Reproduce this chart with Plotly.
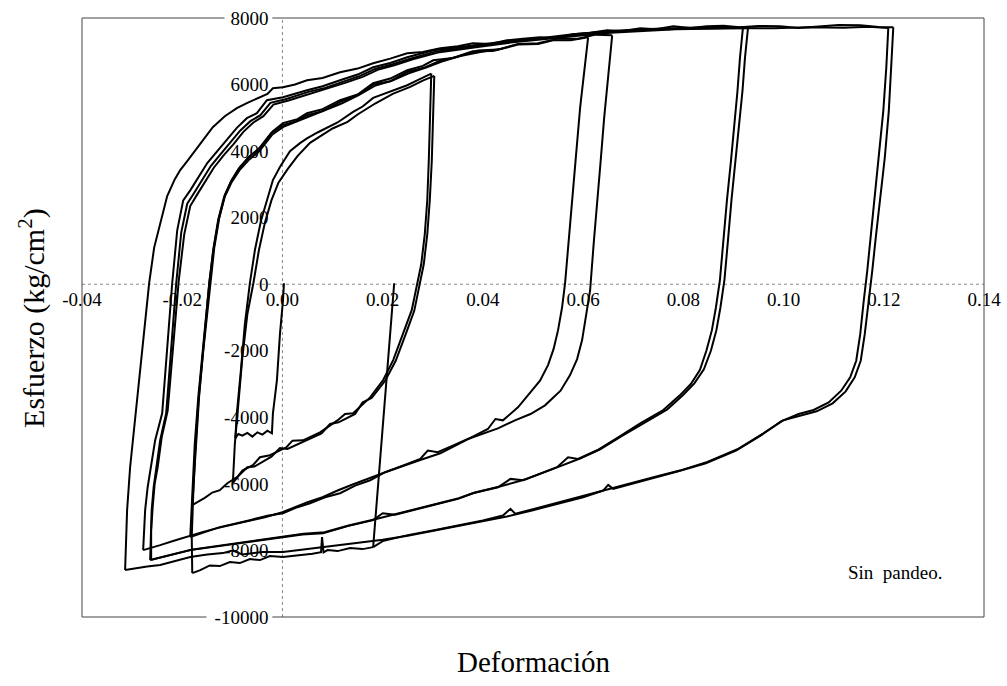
import plotly.graph_objects as go

# ---------------- axis ticks ----------------
x_ticks = [-0.04, -0.02, 0.00, 0.02, 0.04, 0.06, 0.08, 0.10, 0.12, 0.14]
x_tick_labels = ["-0.04", "-0.02", "0.00", "0.02", "0.04", "0.06", "0.08", "0.10", "0.12", "0.14"]
y_ticks = [-10000, -8000, -6000, -4000, -2000, 0, 2000, 4000, 6000, 8000]
y_tick_labels = ["-10000", "-8000", "-6000", "-4000", "-2000", "0", "2000", "4000", "6000", "8000"]

# ---------------- curve branches (strain, stress kg/cm2) ----------------
init_x = [0.0003, 0.0001, -0.0005, -0.0011, -0.0019, -0.0021, -0.0030, -0.0040, -0.0050, -0.0060, -0.0070, -0.0080, -0.0088, -0.0094]
init_y = [30, -500, -1500, -2880, -3880, -4480, -4400, -4520, -4450, -4580, -4470, -4550, -4500, -4630]

r4a_x = [-0.0094, -0.0091, -0.0083, -0.0075, -0.0065, -0.0055, -0.0043, -0.0031, -0.0019, -0.0005, 0.0015, 0.0035, 0.0049, 0.0070, 0.0089, 0.0110, 0.0141, 0.0160, 0.0181, 0.0210, 0.0249, 0.0275, 0.0297]
r4a_y = [-4630, -3880, -2600, -1200, 30, 1020, 1900, 2520, 3130, 3520, 4000, 4240, 4380, 4560, 4700, 4860, 5180, 5340, 5600, 5760, 5980, 6170, 6330]

u1a_x = [0.0297, 0.0295, 0.0292, 0.0289, 0.0284, 0.0277, 0.0269, 0.0258, 0.0241, 0.0221, 0.0201, 0.0175, 0.0141, 0.0125, 0.0109, 0.0090, 0.0075, 0.0041, 0.0020, 0.0008, -0.0025, -0.0045, -0.0059, -0.0080, -0.0099]
u1a_y = [6330, 5000, 3700, 2520, 1500, 600, 30, -780, -1470, -2280, -2880, -3400, -3880, -3900, -4100, -4300, -4450, -4690, -4700, -4900, -5140, -5200, -5440, -5600, -5980]

r4b_x = [-0.0099, -0.0095, -0.0088, -0.0080, -0.0070, -0.0058, -0.0047, -0.0035, -0.0022, -0.0008, 0.0010, 0.0030, 0.0055, 0.0080, 0.0100, 0.0130, 0.0150, 0.0185, 0.0220, 0.0255, 0.0280, 0.0303]
r4b_y = [-5980, -4800, -3600, -2200, -900, 30, 1020, 1850, 2520, 3050, 3450, 3850, 4250, 4480, 4680, 4880, 5100, 5430, 5720, 5930, 6120, 6260]

u1b_x = [0.0303, 0.0301, 0.0298, 0.0294, 0.0289, 0.0282, 0.0274, 0.0263, 0.0246, 0.0226, 0.0205, 0.0178, 0.0160, 0.0145, 0.0112, 0.0095, 0.0078, 0.0044, 0.0010, -0.0005, -0.0022, -0.0056, -0.0070, -0.0089, -0.0110, -0.0125, -0.0140, -0.0155, -0.0170, -0.0180]
u1b_y = [6260, 5000, 3700, 2520, 1500, 600, 30, -800, -1500, -2300, -2900, -3420, -3550, -3900, -4150, -4200, -4480, -4720, -4950, -4920, -5180, -5480, -5500, -5780, -5980, -6190, -6260, -6420, -6560, -6640]

r3a_x = [-0.0180, -0.0176, -0.0172, -0.0166, -0.0158, -0.0150, -0.0144, -0.0136, -0.0126, -0.0114, -0.0101, -0.0085, -0.0065, -0.0045, -0.0019, 0.0001, 0.0030, 0.0049, 0.0080, 0.0115, 0.0150, 0.0181, 0.0215, 0.0249, 0.0280, 0.0301, 0.0340, 0.0380, 0.0420, 0.0470, 0.0510, 0.0540, 0.0575, 0.0610]
r3a_y = [-6640, -5600, -4500, -3300, -2000, -900, 30, 1100, 2000, 2700, 3130, 3520, 3850, 4100, 4600, 4840, 4960, 5140, 5260, 5530, 5700, 6040, 6180, 6430, 6560, 6730, 6800, 7000, 7010, 7200, 7220, 7330, 7330, 7420]

u2a_x = [0.0610, 0.0602, 0.0594, 0.0586, 0.0578, 0.0571, 0.0564, 0.0558, 0.0550, 0.0541, 0.0530, 0.0514, 0.0494, 0.0470, 0.0440, 0.0425, 0.0410, 0.0374, 0.0345, 0.0315, 0.0275, 0.0235, 0.0205, 0.0175, 0.0145, 0.0115, 0.0085, 0.0055, 0.0030, 0.0001, -0.0030, -0.0065, -0.0095, -0.0125, -0.0155, -0.0184]
u2a_y = [7420, 6300, 5300, 3900, 2520, 1200, 30, -700, -1380, -1950, -2430, -2900, -3280, -3700, -4090, -4050, -4350, -4630, -4850, -5080, -5280, -5500, -5650, -5890, -6050, -6280, -6400, -6580, -6700, -6880, -6960, -7090, -7200, -7300, -7450, -7600]

r3b_x = [-0.0184, -0.0180, -0.0175, -0.0168, -0.0160, -0.0152, -0.0146, -0.0138, -0.0128, -0.0116, -0.0103, -0.0088, -0.0068, -0.0048, -0.0022, 0.0001, 0.0028, 0.0049, 0.0080, 0.0115, 0.0150, 0.0181, 0.0215, 0.0249, 0.0285, 0.0315, 0.0350, 0.0390, 0.0430, 0.0470, 0.0510, 0.0550, 0.0590, 0.0625, 0.0658]
r3b_y = [-7600, -6200, -4800, -3400, -2100, -950, 30, 1050, 1950, 2650, 3080, 3450, 3800, 4050, 4550, 4780, 4900, 5080, 5200, 5480, 5680, 6000, 6100, 6380, 6520, 6720, 6840, 7020, 7050, 7220, 7240, 7380, 7380, 7500, 7480]

u2b_x = [0.0658, 0.0650, 0.0642, 0.0635, 0.0628, 0.0621, 0.0614, 0.0606, 0.0598, 0.0588, 0.0574, 0.0555, 0.0524, 0.0495, 0.0464, 0.0430, 0.0400, 0.0370, 0.0340, 0.0310, 0.0290, 0.0275, 0.0240, 0.0205, 0.0170, 0.0140, 0.0110, 0.0080, 0.0050, 0.0020, 0.0000, -0.0035, -0.0065, -0.0100, -0.0130, -0.0160, -0.0190, -0.0215, -0.0244, -0.0265, -0.0278]
u2b_y = [7480, 6300, 5000, 3700, 2520, 1200, -180, -950, -1680, -2250, -2730, -3200, -3640, -3900, -4090, -4330, -4500, -4650, -4850, -5050, -5000, -5250, -5450, -5650, -5830, -6020, -6200, -6400, -6550, -6720, -6850, -7000, -7100, -7230, -7330, -7450, -7580, -7700, -7840, -7930, -7990]

r2a_x = [-0.0278, -0.0276, -0.0274, -0.0269, -0.0264, -0.0254, -0.0240, -0.0230, -0.0220, -0.0210, -0.0198, -0.0184, -0.0165, -0.0150, -0.0130, -0.0111, -0.0091, -0.0071, -0.0051, -0.0031, 0.0001, 0.0049, 0.0080, 0.0115, 0.0150, 0.0181, 0.0215, 0.0249, 0.0301, 0.0340, 0.0380, 0.0448, 0.0514, 0.0580, 0.0648, 0.0714, 0.0780, 0.0847, 0.0890, 0.0919]
r2a_y = [-7990, -7300, -6790, -6100, -5590, -4690, -3880, -1980, 30, 1620, 2520, 2820, 3300, 3640, 4000, 4330, 4700, 4990, 5140, 5530, 5620, 5830, 5950, 6130, 6300, 6520, 6650, 6820, 7030, 7100, 7180, 7300, 7390, 7510, 7600, 7660, 7690, 7720, 7700, 7720]

u3a_x = [0.0919, 0.0913, 0.0908, 0.0903, 0.0895, 0.0887, 0.0880, 0.0873, 0.0865, 0.0857, 0.0846, 0.0833, 0.0815, 0.0793, 0.0760, 0.0714, 0.0670, 0.0628, 0.0590, 0.0570, 0.0548, 0.0515, 0.0480, 0.0455, 0.0430, 0.0380, 0.0350, 0.0315, 0.0270, 0.0225, 0.0200, 0.0181, 0.0130, 0.0081, 0.0040, 0.0001, -0.0040, -0.0085, -0.0135, -0.0184, -0.0224, -0.0264]
u3a_y = [7720, 6800, 5800, 4930, 3700, 2520, 1300, 120, -700, -1380, -2000, -2580, -3000, -3340, -3780, -4180, -4600, -4990, -5250, -5200, -5500, -5700, -5890, -5850, -6100, -6280, -6450, -6580, -6760, -6930, -6880, -7090, -7270, -7480, -7520, -7600, -7680, -7780, -7880, -7990, -8140, -8290]

r2b_x = [-0.0264, -0.0263, -0.0261, -0.0257, -0.0252, -0.0244, -0.0232, -0.0222, -0.0212, -0.0202, -0.0190, -0.0176, -0.0158, -0.0143, -0.0123, -0.0104, -0.0084, -0.0064, -0.0044, -0.0024, 0.0006, 0.0052, 0.0085, 0.0120, 0.0155, 0.0185, 0.0220, 0.0255, 0.0305, 0.0345, 0.0385, 0.0450, 0.0515, 0.0580, 0.0650, 0.0714, 0.0780, 0.0850, 0.0900, 0.0929]
r2b_y = [-8290, -7500, -6800, -6100, -5590, -4690, -3880, -1980, 30, 1550, 2420, 2750, 3200, 3550, 3920, 4250, 4620, 4900, 5080, 5450, 5560, 5780, 5900, 6080, 6260, 6470, 6610, 6780, 6990, 7070, 7150, 7280, 7370, 7480, 7580, 7640, 7680, 7700, 7690, 7700]

u3b_x = [0.0929, 0.0923, 0.0918, 0.0912, 0.0904, 0.0896, 0.0889, 0.0882, 0.0874, 0.0866, 0.0855, 0.0841, 0.0822, 0.0800, 0.0768, 0.0722, 0.0676, 0.0634, 0.0595, 0.0552, 0.0518, 0.0484, 0.0434, 0.0384, 0.0352, 0.0318, 0.0272, 0.0228, 0.0183, 0.0132, 0.0084, 0.0042, 0.0003, -0.0038, -0.0083, -0.0133, -0.0182, -0.0222, -0.0262]
u3b_y = [7700, 6800, 5800, 4930, 3700, 2520, 1300, 120, -700, -1380, -2000, -2560, -2980, -3320, -3760, -4160, -4570, -4960, -5230, -5480, -5680, -5870, -6080, -6260, -6430, -6560, -6740, -6910, -7070, -7250, -7450, -7500, -7580, -7660, -7760, -7870, -7980, -8130, -8280]

r2c_x = [-0.0262, -0.0262, -0.0259, -0.0255, -0.0249, -0.0241, -0.0229, -0.0218, -0.0207, -0.0196, -0.0184, -0.0170, -0.0152, -0.0137, -0.0117, -0.0098, -0.0078, -0.0058, -0.0038, -0.0018, 0.0012, 0.0058, 0.0090, 0.0125, 0.0160, 0.0190, 0.0225, 0.0260, 0.0310, 0.0350, 0.0390, 0.0455, 0.0520, 0.0585, 0.0655, 0.0720, 0.0785, 0.0850, 0.0915, 0.0980, 0.1050, 0.1120, 0.1170, 0.1209]
r2c_y = [-8280, -7400, -6700, -6000, -5500, -4600, -3800, -1900, 100, 1500, 2350, 2700, 3150, 3500, 3880, 4200, 4580, 4860, 5050, 5400, 5520, 5740, 5870, 6050, 6230, 6440, 6590, 6760, 6960, 7050, 7130, 7260, 7350, 7460, 7560, 7620, 7660, 7680, 7700, 7690, 7720, 7710, 7740, 7700]

u4a_x = [0.1209, 0.1205, 0.1199, 0.1190, 0.1181, 0.1174, 0.1167, 0.1160, 0.1153, 0.1145, 0.1133, 0.1115, 0.1090, 0.1060, 0.1030, 0.0995, 0.0955, 0.0905, 0.0845, 0.0790, 0.0745, 0.0700, 0.0660, 0.0650, 0.0640, 0.0600, 0.0550, 0.0500, 0.0448, 0.0400, 0.0350, 0.0300, 0.0250, 0.0200, 0.0150, 0.0100, 0.0050, 0.0001, -0.0040, -0.0080, -0.0100, -0.0119, -0.0150, -0.0184, -0.0215, -0.0244, -0.0270, -0.0290, -0.0314]
u4a_y = [7700, 6500, 5200, 3800, 2520, 1400, 400, -500, -1500, -2300, -2800, -3200, -3550, -3780, -3900, -4120, -4540, -5000, -5380, -5620, -5800, -5980, -6150, -6030, -6200, -6400, -6600, -6790, -6980, -7120, -7280, -7420, -7560, -7680, -7780, -7870, -7960, -8050, -8050, -8120, -8000, -8080, -8120, -8200, -8330, -8440, -8480, -8520, -8590]

r1_x = [-0.0314, -0.0312, -0.0310, -0.0304, -0.0294, -0.0284, -0.0275, -0.0266, -0.0256, -0.0244, -0.0230, -0.0215, -0.0204, -0.0190, -0.0178, -0.0160, -0.0139, -0.0115, -0.0091, -0.0070, -0.0051, -0.0030, -0.0019, 0.0001, 0.0025, 0.0049, 0.0080, 0.0115, 0.0150, 0.0181, 0.0215, 0.0249, 0.0280, 0.0315, 0.0350, 0.0380, 0.0415, 0.0448, 0.0480, 0.0514, 0.0545, 0.0580, 0.0615, 0.0648, 0.0680, 0.0714, 0.0745, 0.0780, 0.0815, 0.0847, 0.0880, 0.0913, 0.0950, 0.0993, 0.1030, 0.1073, 0.1110, 0.1153, 0.1190, 0.1219]
r1_y = [-8590, -7700, -6790, -5500, -4090, -2700, -1300, 30, 1100, 1830, 2650, 3150, 3430, 3700, 3940, 4300, 4720, 5050, 5290, 5450, 5590, 5720, 5890, 5920, 6000, 6130, 6200, 6370, 6480, 6640, 6780, 6940, 6980, 7090, 7150, 7240, 7220, 7330, 7380, 7420, 7400, 7510, 7560, 7630, 7600, 7690, 7660, 7750, 7700, 7750, 7770, 7720, 7760, 7750, 7700, 7750, 7790, 7780, 7730, 7720]

u4b_x = [0.1219, 0.1215, 0.1210, 0.1202, 0.1192, 0.1184, 0.1177, 0.1170, 0.1162, 0.1154, 0.1142, 0.1124, 0.1098, 0.1066, 0.1035, 0.0999, 0.0958, 0.0908, 0.0848, 0.0793, 0.0748, 0.0703, 0.0658, 0.0603, 0.0553, 0.0503, 0.0465, 0.0455, 0.0440, 0.0400, 0.0350, 0.0300, 0.0250, 0.0200, 0.0181]
u4b_y = [7720, 6500, 5200, 3800, 2520, 1400, 400, -500, -1500, -2300, -2800, -3220, -3580, -3820, -3940, -4090, -4500, -4960, -5340, -5600, -5770, -5950, -6150, -6370, -6570, -6760, -6900, -6750, -6950, -7100, -7260, -7400, -7540, -7720, -7900]

low_x = [0.0181, 0.0160, 0.0135, 0.0110, 0.0090, 0.0082, 0.0079, 0.0077, 0.0060, 0.0035, 0.0001, -0.0025, -0.0045, -0.0065, -0.0085, -0.0105, -0.0125, -0.0145, -0.0164, -0.0180]
low_y = [-7900, -7960, -7930, -8020, -7990, -8060, -7600, -8050, -8100, -8140, -8200, -8170, -8290, -8260, -8380, -8350, -8470, -8450, -8590, -8680]

r3c_x = [-0.0180, -0.0181, -0.0178, -0.0174, -0.0168, -0.0160, -0.0152, -0.0146, -0.0138, -0.0128, -0.0116, -0.0102, -0.0086, -0.0066, -0.0046, -0.0020, 0.0003, 0.0030, 0.0052, 0.0082, 0.0118, 0.0152, 0.0184, 0.0218, 0.0252, 0.0288, 0.0318, 0.0355, 0.0395, 0.0440]
r3c_y = [-8680, -7600, -6300, -5000, -3600, -2300, -1000, 30, 1000, 1900, 2600, 3050, 3420, 3750, 4000, 4500, 4740, 4900, 5040, 5200, 5430, 5680, 5960, 6110, 6340, 6520, 6690, 6860, 6980, 7080]

jump_x = [0.0223, 0.0181]
jump_y = [30, -7900]

branches = [
    (init_x, init_y), (r4a_x, r4a_y), (u1a_x, u1a_y), (r4b_x, r4b_y), (u1b_x, u1b_y),
    (r3a_x, r3a_y), (u2a_x, u2a_y), (r3b_x, r3b_y), (u2b_x, u2b_y),
    (r2a_x, r2a_y), (u3a_x, u3a_y), (r2b_x, r2b_y), (u3b_x, u3b_y),
    (r2c_x, r2c_y), (u4a_x, u4a_y), (r1_x, r1_y), (u4b_x, u4b_y),
    (low_x, low_y), (r3c_x, r3c_y), (jump_x, jump_y),
]

SERIF = "Liberation Serif"

fig = go.Figure()
for bx, by in branches:
    fig.add_trace(go.Scatter(
        x=bx, y=by, mode="lines",
        line=dict(color="black", width=2),
        hoverinfo="skip", showlegend=False,
    ))

X_RANGE = [-0.04, 0.14]
Y_RANGE = [-10000, 8000]
x_zero_frac = (0 - Y_RANGE[0]) / (Y_RANGE[1] - Y_RANGE[0])
y_zero_frac = (0 - X_RANGE[0]) / (X_RANGE[1] - X_RANGE[0])

fig.update_layout(
    width=1007, height=686,
    margin=dict(l=82, r=23, t=18, b=69, autoexpand=False),
    paper_bgcolor="white", plot_bgcolor="white",
    xaxis=dict(
        range=X_RANGE, anchor="free", position=x_zero_frac,
        tickvals=x_ticks, ticktext=x_tick_labels,
        showgrid=False, zeroline=False, showline=False, ticks="",
        tickfont=dict(family=SERIF, size=19, color="black"),
        ticklabelstandoff=2, layer="below traces", automargin=False,
    ),
    yaxis=dict(
        range=Y_RANGE, anchor="free", position=y_zero_frac,
        tickvals=y_ticks, ticktext=y_tick_labels,
        showgrid=False, zeroline=False, showline=False, ticks="",
        tickfont=dict(family=SERIF, size=19, color="black"),
        ticklabelstandoff=14, layer="below traces", automargin=False,
    ),
    shapes=[
        # dotted axes through the origin
        dict(type="line", xref="x", yref="paper", x0=0, x1=0, y0=0, y1=1,
             line=dict(color="#888", width=1, dash="dot"), layer="below"),
        dict(type="line", xref="paper", yref="y", x0=0, x1=1, y0=0, y1=0,
             line=dict(color="#888", width=1, dash="dot"), layer="below"),
        # frame (top/bottom broken where the end labels sit)
        dict(type="line", xref="paper", yref="paper", x0=0, x1=0, y0=0, y1=1,
             line=dict(color="#444", width=1)),
        dict(type="line", xref="paper", yref="paper", x0=1, x1=1, y0=0, y1=1,
             line=dict(color="#444", width=1)),
        dict(type="line", xref="paper", yref="paper", x0=0, x1=0.158, y0=1, y1=1,
             line=dict(color="#444", width=1)),
        dict(type="line", xref="paper", yref="paper", x0=0.211, x1=1, y0=1, y1=1,
             line=dict(color="#444", width=1)),
        dict(type="line", xref="paper", yref="paper", x0=0, x1=0.138, y0=0, y1=0,
             line=dict(color="#444", width=1)),
        dict(type="line", xref="paper", yref="paper", x0=0.211, x1=1, y0=0, y1=0,
             line=dict(color="#444", width=1)),
    ],
    annotations=[
        dict(text="Esfuerzo (kg/cm<sup>2</sup>)", xref="paper", yref="paper",
             x=-0.055, y=0.5, textangle=-90, showarrow=False,
             xanchor="center", yanchor="middle",
             font=dict(family=SERIF, size=30, color="black")),
        dict(text="Deformación", xref="paper", yref="paper",
             x=0.5, y=-0.075, showarrow=False,
             xanchor="center", yanchor="middle",
             font=dict(family=SERIF, size=29, color="black")),
        dict(text="Sin  pandeo.", xref="x", yref="y",
             x=0.1222, y=-8650, showarrow=False,
             xanchor="center", yanchor="middle",
             font=dict(family=SERIF, size=19, color="black")),
    ],
)

# remove the page's default 8px body margin so the figure sits at the window origin
fig.write_html("out.html", config={"displayModeBar": False},
               post_script="document.body.style.margin='0';")
